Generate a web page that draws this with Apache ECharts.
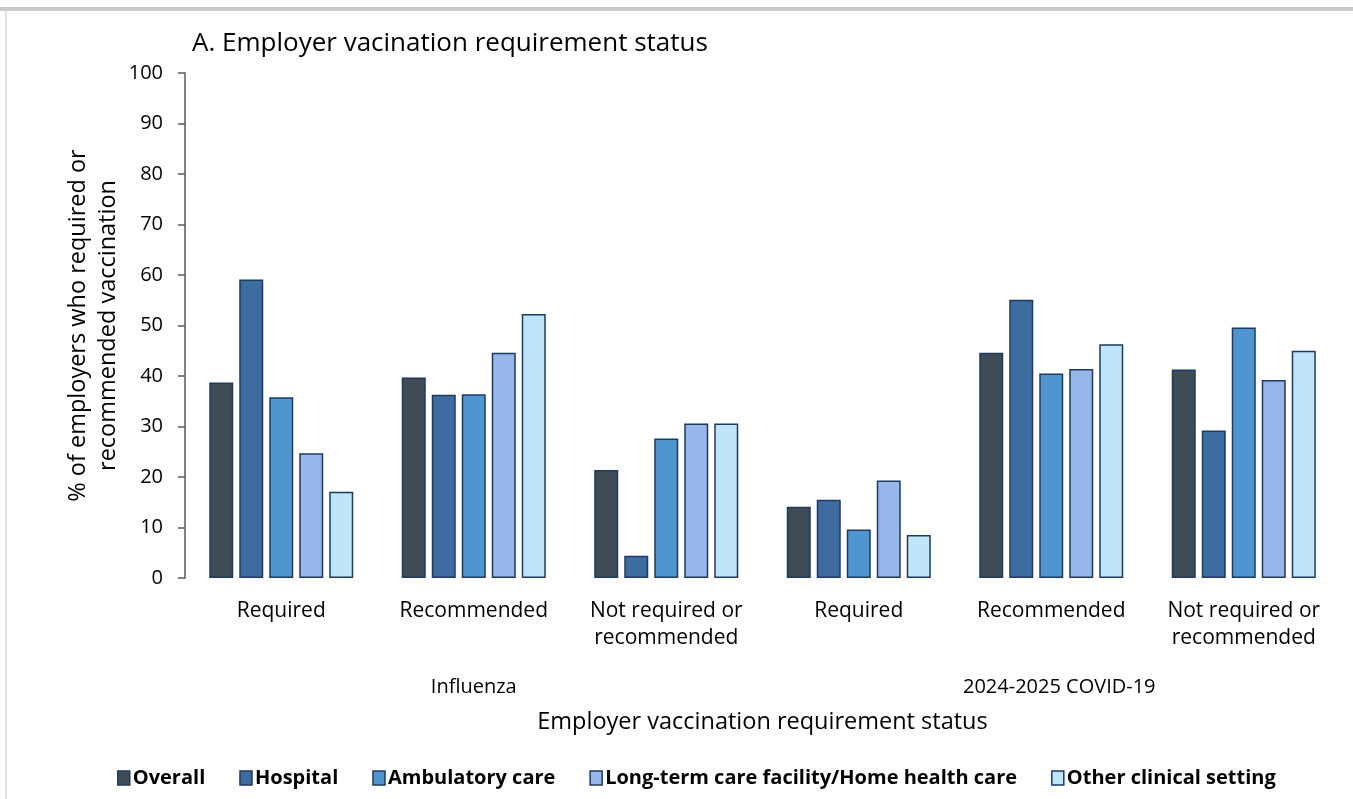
<!DOCTYPE html>
<html>
<head>
<meta charset="utf-8">
<title>Employer vaccination requirement status</title>
<script src="https://cdn.jsdelivr.net/npm/echarts@6/dist/echarts.min.js"></script>
<style>
  html, body { margin: 0; padding: 0; background: #fff; }
  #wrap { position: relative; width: 1353px; height: 799px; overflow: hidden; }
  #topLine { position: absolute; left: 0; top: 7px; width: 1353px; height: 4px; background: #cbcbcb; }
  #leftLine { position: absolute; left: 5px; top: 11px; width: 2px; height: 788px; background: #e2e2e2; }
  #main { position: absolute; left: 0; top: 0; width: 1353px; height: 799px; }
</style>
</head>
<body>
<div id="wrap">
  <div id="topLine"></div>
  <div id="leftLine"></div>
  <div id="main"></div>
</div>
<script>
// categories
const statusCats = ['Required', 'Recommended', 'Not required or\nrecommended',
                    'Required', 'Recommended', 'Not required or\nrecommended'];
const vaccineCats = ['Influenza', '2024-2025 COVID-19'];
const yTicks = [0, 100, 10]; // min, max, interval

// series values (%)
const seriesNames = ['Overall', 'Hospital', 'Ambulatory care',
                     'Long-term care facility/Home health care', 'Other clinical setting'];
const overall    = [38.7, 39.7, 21.4, 14.1, 44.6, 41.3];
const hospital   = [59.1, 36.3, 4.4, 15.5, 55.1, 29.2];
const ambulatory = [35.8, 36.4, 27.6, 9.6, 40.5, 49.6];
const longTerm   = [24.7, 44.6, 30.6, 19.3, 41.4, 39.2];
const otherSet   = [17.1, 52.3, 30.6, 8.5, 46.3, 45.0];

const colors = ['#404c55', '#3d6ca1', '#4f95cf', '#97b7eb', '#bee6f8'];
const font = '"Open Sans", "Noto Sans", sans-serif';

const chart = echarts.init(document.getElementById('main'));

const seriesData = [overall, hospital, ambulatory, longTerm, otherSet];
const series = seriesNames.map((name, i) => ({
  name: name,
  type: 'bar',
  xAxisIndex: 0,
  barWidth: 24,
  barGap: '25%',
  itemStyle: { color: colors[i], borderColor: '#1f3a5f', borderWidth: 1.5 },
  emphasis: { disabled: true },
  data: seriesData[i]
}));

const option = {
  animation: false,
  textStyle: { fontFamily: font },
  title: {
    text: 'A. Employer vacination requirement status',
    left: 187,
    top: 26,
    textStyle: { fontFamily: font, fontSize: 26, fontWeight: 'normal', color: '#000' }
  },
  legend: {
    bottom: 6,
    left: 112,
    icon: 'rect',
    itemWidth: 12,
    itemHeight: 14,
    itemGap: 34,
    itemStyle: { borderColor: '#1f3a5f', borderWidth: 1.5 },
    textStyle: { fontFamily: font, fontSize: 20, fontWeight: 'bold', color: '#000', padding: [0, 0, 0, -2] },
    data: seriesNames
  },
  grid: { left: 185, right: 13, top: 73, bottom: 221, containLabel: false },
  xAxis: [
    {
      type: 'category',
      data: statusCats,
      axisLine: { show: false },
      axisTick: { show: false },
      axisLabel: { interval: 0, margin: 20, fontSize: 21, lineHeight: 27, color: '#000', fontFamily: font }
    },
    {
      type: 'category',
      position: 'bottom',
      data: vaccineCats,
      axisLine: { show: false },
      axisTick: { show: false },
      axisLabel: {
        interval: 0, margin: 99, fontSize: 20, color: '#000', fontFamily: font,
        // COVID label sits a little right of its group centre
        formatter: (v, i) => i === 1 ? '{c|' + v + '}' : v,
        rich: { c: { fontSize: 20, color: '#000', fontFamily: font, padding: [0, 0, 0, 16] } }
      },
      name: 'Employer vaccination requirement status',
      nameLocation: 'middle',
      nameGap: 132,
      nameMoveOverlap: false,
      nameTextStyle: { fontSize: 23.5, color: '#000', fontFamily: font }
    }
  ],
  yAxis: {
    type: 'value',
    min: yTicks[0],
    max: yTicks[1],
    interval: yTicks[2],
    splitLine: { show: false },
    axisLine: { show: true, lineStyle: { color: '#595959', width: 1.5 } },
    axisTick: { show: true, length: 7, lineStyle: { color: '#595959', width: 1.5 } },
    axisLabel: { margin: 22, fontSize: 20, color: '#000', fontFamily: font },
    name: '% of employers who required or\nrecommended vaccination',
    nameLocation: 'middle',
    nameGap: 62,
    nameMoveOverlap: false,
    nameTextStyle: { fontSize: 23.5, lineHeight: 30, color: '#000', fontFamily: font }
  },
  series: series
};

chart.setOption(option);
</script>
</body>
</html>
